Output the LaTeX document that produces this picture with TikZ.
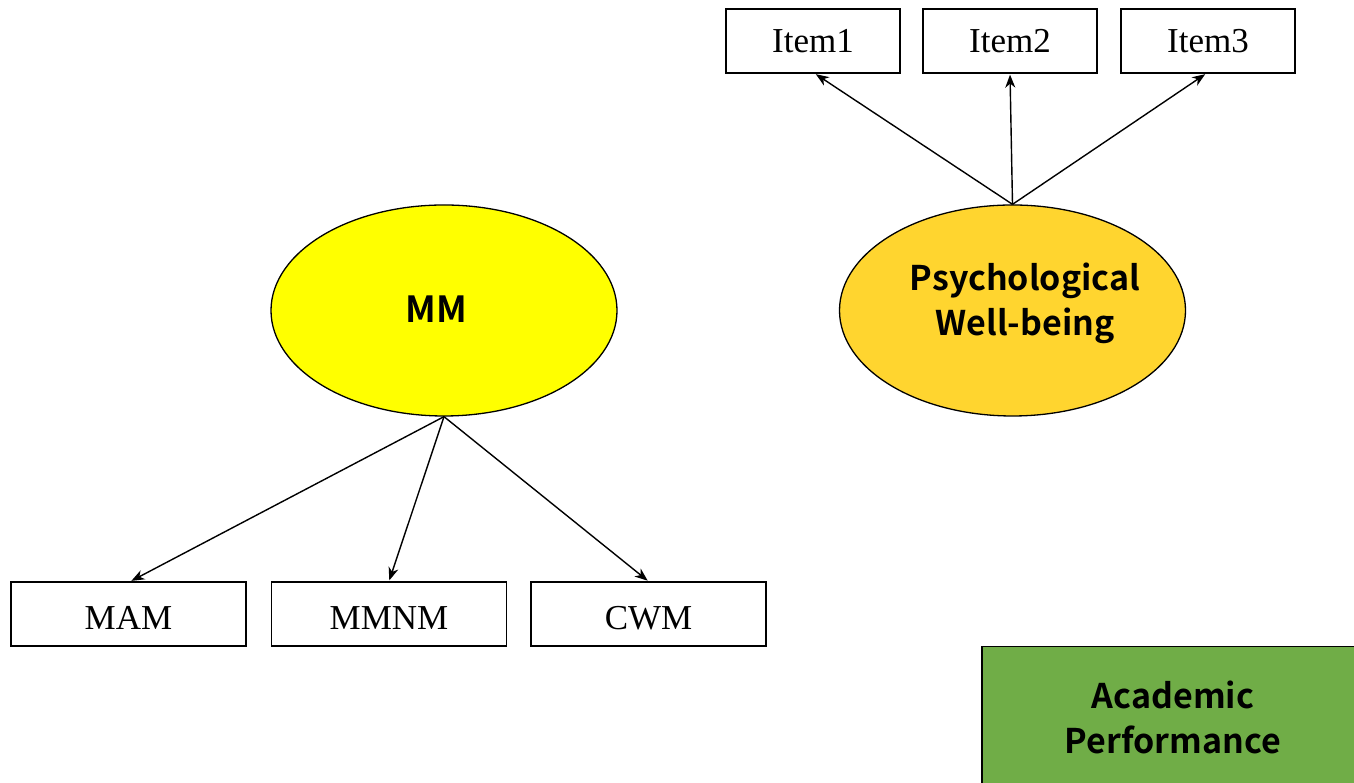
\documentclass[tikz,border=0pt]{standalone}
\usepackage{fontspec}
\setmainfont{Liberation Serif}
\newfontfamily\labelfont{Noto Sans CJK SC Bold}
\usetikzlibrary{shapes.geometric,arrows.meta}
\definecolor{mmyellow}{HTML}{FFFF00}
\definecolor{pwbgold}{HTML}{FFD52F}
\definecolor{apgreen}{HTML}{70AD47}
\tikzset{
  indicator/.style={draw=black, line width=1.3pt, fill=white, minimum width=174pt, minimum height=64pt,
    inner sep=0pt, font=\fontsize{35}{38}\selectfont},
  wideindicator/.style={indicator, minimum width=235pt, text height=32pt, text depth=0pt},
  latent/.style={ellipse, draw=black, line width=1.3pt, minimum width=346pt, minimum height=211pt,
    inner sep=0pt},
  boldlabel/.style={align=center, font=\labelfont\fontsize{34}{45}\selectfont},
  outcome/.style={rectangle, draw=black, line width=1.5pt, fill=apgreen, inner sep=0pt},
  path/.style={-{Stealth[length=13pt,width=10pt,inset=4pt]}, line width=1.4pt, shorten >=1pt}
}
\begin{document}
\begin{tikzpicture}[x=1pt,y=1pt]
\useasboundingbox (0,0) rectangle (1354,783);
\clip (0,0) rectangle (1354,783);
\fill[white] (0,0) rectangle (1354,783);

% latent constructs
\node[latent, fill=mmyellow] (mm) at (444,472.5) {};
\node[boldlabel, font=\labelfont\fontsize{36}{45}\selectfont] (mmtext) at (436,474) {MM};
\node[latent, fill=pwbgold] (pwb) at (1012.5,472.5) {};
\node[boldlabel] (pwbtext) at (1025,480) {Psychological\\Well-being};

% indicators of psychological well-being
\node[indicator] (item1) at (813,742) {Item1};
\node[indicator] (item2) at (1010,742) {Item2};
\node[indicator] (item3) at (1208,742) {Item3};

% indicators of MM
\node[wideindicator] (mam) at (128.5,169) {MAM};
\node[wideindicator] (mmnm) at (389,169) {MMNM};
\node[wideindicator] (cwm) at (648.5,169) {CWM};

% outcome
\node[outcome, minimum width=400pt, minimum height=160pt, anchor=north west] (ap) at (981,137) {};
\node[boldlabel] (aptext) at (1173,66) {Academic\\Performance};

% loadings
\coordinate (pwbtop) at (pwb.north);
\coordinate (mmbot) at (mm.south);
\draw[path] (pwbtop) -- ([xshift=2pt]item1.south);
\draw[path] (pwbtop) -- (item2.south);
\draw[path] (pwbtop) -- ([xshift=-2pt]item3.south);
\draw[path] (mmbot) -- ([xshift=2pt]mam.north);
\draw[path] (mmbot) -- (mmnm.north);
\draw[path] (mmbot) -- (cwm.north);
\end{tikzpicture}
\end{document}
